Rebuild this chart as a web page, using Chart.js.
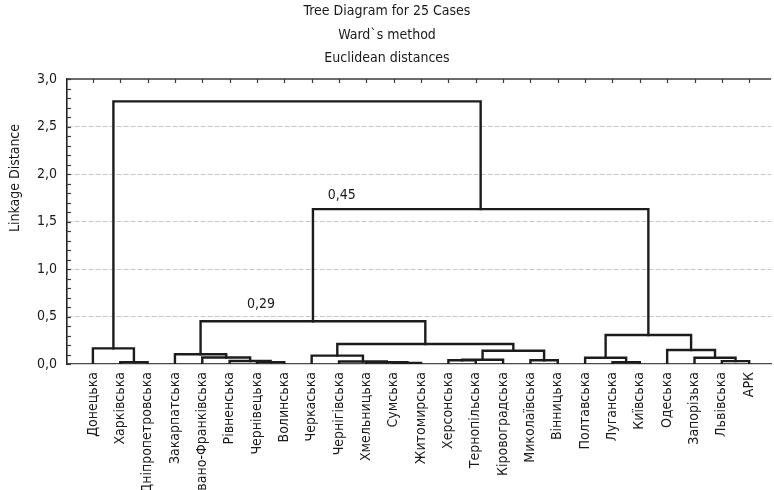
<!DOCTYPE html>
<html>
<head>
<meta charset="utf-8">
<script src="https://cdn.jsdelivr.net/npm/chart.js@4.4.1/dist/chart.umd.min.js"></script>
<style>
  html, body { margin: 0; padding: 0; background: #ffffff; }
  canvas { display: block; }
</style>
</head>
<body>
<canvas id="c" width="774" height="490"></canvas>
<script>
// ---------- data ----------
const leaves = [
  'Донецька', 'Харківська', 'Дніпропетровська', 'Закарпатська', 'Івано-Франківська',
  'Рівненська', 'Чернівецька', 'Волинська', 'Черкаська', 'Чернігівська',
  'Хмельницька', 'Сумська', 'Житомирська', 'Херсонська', 'Тернопільська',
  'Кіровоградська', 'Миколаївська', 'Вінницька', 'Полтавська', 'Луганська',
  'Київська', 'Одеська', 'Запорізька', 'Львівська', 'АРК'
];
// linkage: cluster k (index 25+k) = mergeA[k] + mergeB[k] at mergeHeight[k]
const mergeA      = [1,    0,     6,    5,     4,     3,     11,   10,    9,     8,     13,   35,    16,   36,   34,   30,   19,    18,    23,   22,    21,    42,    40,   26];
const mergeB      = [2,    25,    7,    27,    28,    29,    12,   31,    32,    33,    14,   15,    17,   37,   38,   39,   20,    41,    24,   43,    44,    45,    46,   47];
const mergeHeight = [0.02, 0.165, 0.02, 0.032, 0.068, 0.103, 0.01, 0.018, 0.027, 0.088, 0.04, 0.045, 0.04, 0.14, 0.21, 0.45, 0.018, 0.066, 0.03, 0.066, 0.147, 0.305, 1.63, 2.765];
const yTicks = [0, 0.5, 1.0, 1.5, 2.0, 2.5, 3.0];
const noteTexts = ['0,45', '0,29'];
const noteX = [9.1, 6.15];
const noteY = [1.78, 0.63];
const titleLines = ['Tree Diagram for 25 Cases', 'Ward`s method', 'Euclidean distances'];
const yTitle = 'Linkage Distance';

// ---------- build dendrogram segments ----------
const pos = leaves.map((_, i) => i);
const hgt = leaves.map(() => 0);
const datasets = [];
mergeA.forEach((a, k) => {
  const b = mergeB[k], h = mergeHeight[k];
  datasets.push({
    data: [
      { x: pos[a], y: hgt[a] }, { x: pos[a], y: h },
      { x: pos[b], y: h }, { x: pos[b], y: hgt[b] }
    ],
    showLine: true, borderColor: '#1c1c1c', borderWidth: 2.4,
    borderJoinStyle: 'miter', borderCapStyle: 'square',
    pointRadius: 0, fill: false, tension: 0
  });
  pos.push((pos[a] + pos[b]) / 2);
  hgt.push(h);
});

const FONT = "'Liberation Sans Narrow', 'DejaVu Sans Condensed', 'Roboto Condensed', 'Liberation Sans', sans-serif";
const fmt = v => v.toFixed(1).replace('.', ',');

const framePlugin = {
  id: 'frame',
  afterDatasetsDraw(chart) {
    const { ctx, chartArea: ca, scales } = chart;
    ctx.save();
    // top frame line with inward ticks at each case
    ctx.strokeStyle = '#3a3a3a';
    ctx.lineWidth = 1.5;
    ctx.beginPath();
    ctx.moveTo(ca.left, ca.top); ctx.lineTo(ca.right, ca.top);
    ctx.stroke();
    ctx.lineWidth = 1.2;
    leaves.forEach((_, i) => {
      const x = Math.round(scales.x.getPixelForValue(i)) + 0.5;
      ctx.beginPath(); ctx.moveTo(x, ca.top); ctx.lineTo(x, ca.top + 4); ctx.stroke();
    });
    // minor ticks on y axis (inside)
    for (let k = 0; k <= 30; k++) {
      const y = Math.round(scales.y.getPixelForValue(k / 10)) + 0.5;
      ctx.beginPath(); ctx.moveTo(ca.left, y); ctx.lineTo(ca.left + 4, y); ctx.stroke();
    }
    // annotations
    ctx.fillStyle = '#1a1a1a';
    ctx.font = '14px ' + FONT;
    ctx.textAlign = 'center';
    ctx.textBaseline = 'middle';
    noteTexts.forEach((t, i) => {
      ctx.fillText(t, scales.x.getPixelForValue(noteX[i]), scales.y.getPixelForValue(noteY[i]));
    });
    // y axis title
    ctx.translate(15, 178);
    ctx.rotate(-Math.PI / 2);
    ctx.fillText(yTitle, 0, 0);
    ctx.restore();
  }
};

new Chart(document.getElementById('c'), {
  type: 'scatter',
  data: { datasets },
  plugins: [framePlugin],
  options: {
    responsive: false,
    animation: false,
    devicePixelRatio: 1,
    layout: { padding: 0 },
    plugins: {
      legend: { display: false },
      tooltip: { enabled: false },
      title: {
        display: true,
        text: titleLines,
        color: '#1a1a1a',
        font: { family: FONT, size: 14, weight: 'normal', lineHeight: '23.5px' },
        padding: { top: 0, bottom: 8.5 }
      }
    },
    scales: {
      x: {
        type: 'linear',
        min: -0.947,
        max: 24.8,
        afterBuildTicks: s => { s.ticks = leaves.map((_, i) => ({ value: i })); },
        afterFit: s => { s.height = 126; },
        ticks: {
          autoSkip: false,
          minRotation: 90,
          maxRotation: 90,
          padding: 8,
          color: '#1a1a1a',
          font: { family: FONT, size: 14 },
          callback: v => leaves[v]
        },
        grid: { display: false, drawTicks: false },
        border: { display: true, color: '#4a4a4a', width: 1.2 }
      },
      y: {
        min: 0,
        max: 3,
        afterBuildTicks: s => { s.ticks = yTicks.map(v => ({ value: v })); },
        afterFit: s => { s.width = 67; },
        ticks: {
          padding: 10,
          color: '#1a1a1a',
          font: { family: FONT, size: 14 },
          callback: v => fmt(v)
        },
        grid: {
          drawTicks: false,
          color: c => (c.tick && (c.tick.value === 0 || c.tick.value === 3)) ? 'rgba(0,0,0,0)' : '#c8c8c8',
          lineWidth: 1
        },
        border: { display: true, color: '#222222', width: 1.6, dash: [5, 2] }
      }
    }
  }
});
</script>
</body>
</html>
